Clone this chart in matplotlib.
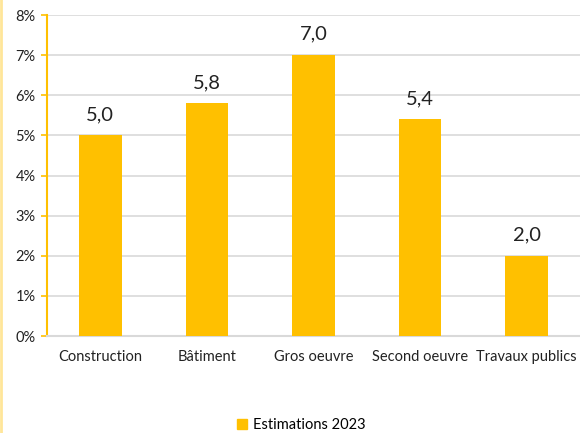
import matplotlib.pyplot as plt
from matplotlib.lines import Line2D
from matplotlib.patches import Patch

categories = ["Construction", "Bâtiment", "Gros oeuvre", "Second oeuvre", "Travaux publics"]
values = [5.0, 5.8, 7.0, 5.4, 2.0]
series_name = "Estimations 2023"

plt.rcParams['font.family'] = ['Lato', 'DejaVu Sans']

fig = plt.figure(figsize=(5.8, 4.33), dpi=100)
ax = fig.add_axes([0.081, 0.224, 0.919, 0.741])

yellow = "#FFC000"
x = range(len(categories))
bars = ax.bar(x, values, width=0.4, color=yellow, zorder=3)

for xi, v in zip(x, values):
    ax.annotate(f"{v:.1f}".replace(".", ","), (xi, v), xytext=(0, 9),
                textcoords="offset points", ha="center", va="bottom",
                fontsize=14.5, color="#222222")

ax.set_xlim(-0.5, len(categories) - 0.5)
ax.set_ylim(0, 8)
ax.set_yticks(range(0, 9))
ax.set_yticklabels([f"{i}%" for i in range(0, 9)])
ax.set_xticks(list(x))
ax.set_xticklabels(categories)
ax.tick_params(axis="x", length=0, pad=10, labelsize=10.5, colors="#222222")
ax.tick_params(axis="y", length=4, width=1.2, color=yellow, labelsize=10.5,
               labelcolor="#222222", pad=4)

ax.grid(axis="y", color="#D9D9D9", linewidth=1.2, zorder=0)
for s in ("top", "right"):
    ax.spines[s].set_visible(False)
ax.spines["left"].set_color(yellow)
ax.spines["left"].set_linewidth(1.5)
ax.spines["bottom"].set_color("#D9D9D9")
ax.spines["bottom"].set_linewidth(1.5)

fig.legend(handles=[Patch(color=yellow, label=series_name)], loc="center",
           bbox_to_anchor=(0.52, 0.018), frameon=False, fontsize=10.5,
           handlelength=0.7, handleheight=0.7, handletextpad=0.4)

fig.add_artist(Line2D([0.002, 0.002], [0, 1], color="#FFE699", linewidth=2,
                      transform=fig.transFigure))

fig.savefig("out.png", dpi=100)
